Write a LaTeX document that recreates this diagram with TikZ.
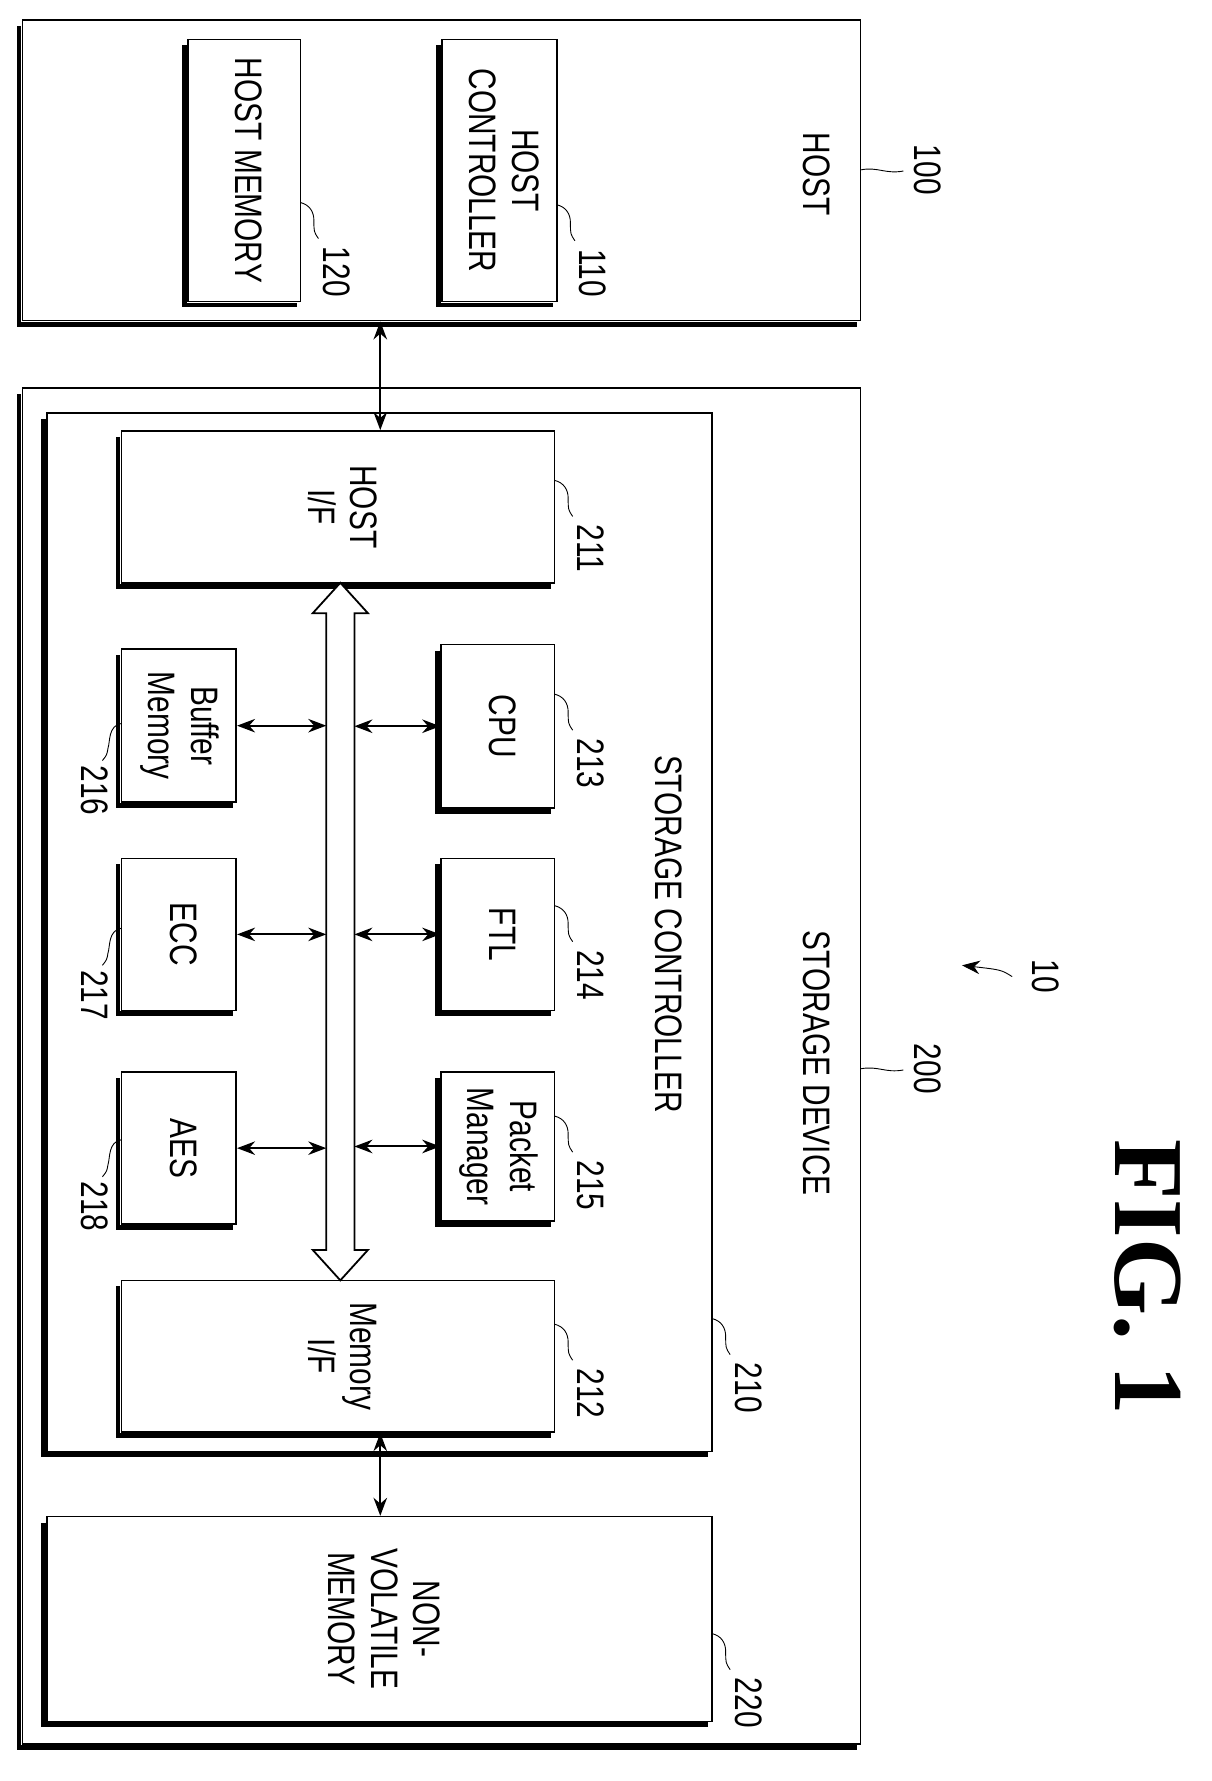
\documentclass[tikz,border=0pt]{standalone}
\usepackage{fontspec}
\setmainfont{Liberation Sans}
\newfontfamily\figfont{Liberation Serif}
\usetikzlibrary{arrows.meta}
\newcommand\nr[1]{\scalebox{0.78}[1]{\begin{tabular}{@{}c@{}}#1\end{tabular}}}
\newcommand\bx[6]{%
  \node[box,minimum width={(#4-#2)*0.5pt},minimum height={(#5-#3)*0.5pt}] (#1) at ({(#2+#4)/2},{(#3+#5)/2}) {};
  \draw[shadowline] ([xshift=-1.2pt,yshift=-3pt]#1.north west) -- ([xshift=-1.2pt,yshift=-1.2pt]#1.south west) -- ([xshift=-2pt,yshift=-1.2pt]#1.south east);
  \node[txt] (#1t) at (#1.center) {\nr{#6}};}
\newcommand\lead[3]{% name, start x, start y
  \draw[thin] (#2,#3) .. controls ({#2+8},{#3+2}) and ({#2+12},{#3+8}) .. ({#2+12},{#3+16}) .. controls ({#2+12},{#3+26}) .. ({#2+16},{#3+32});
  \node[txt,anchor=west] (#1) at ({#2+28},{#3+37}) {\nr{#1}};}
\newcommand\hlead[3]{%
  \draw[thin] (#2,#3) .. controls ({#2+15},{#3-3}) and ({#2+22},{#3+4}) .. ({#2+38},{#3+1});
  \node[txt] (#1) at ({#2+55},{#3}) {\nr{#1}};}
\begin{document}
\begin{tikzpicture}[x=0.5pt,y=-0.5pt,
  box/.style={draw,line width=0.7pt,inner sep=0pt,fill=white},
  shadowline/.style={line width=2.2pt},
  txt/.style={rotate=-90,font=\fontsize{17}{19}\selectfont,inner sep=1pt},
  arr/.style={{Stealth[length=8pt,width=6pt]}-{Stealth[length=8pt,width=6pt]},line width=0.9pt}]
\useasboundingbox (0,0) rectangle (1077,1583);
% host
\bx{host}{20}{18}{765}{285}{}
\node[txt] (hostt2) at (722,155) {\nr{HOST}};
\bx{hmem}{167}{35}{267}{268}{HOST MEMORY}
\bx{hctl}{393}{35}{495}{268}{HOST\\CONTROLLER}
% storage device
\bx{sd}{20}{345}{765}{1550}{}
\node[txt] (sdt2) at (722,945) {\nr{STORAGE DEVICE}};
\bx{sc}{42}{367}{633}{1290}{}
\node[txt] (sct2) at (590,830) {\nr{STORAGE CONTROLLER}};
\bx{hif}{108}{383}{493}{518}{HOST\\I/F}
\bx{mif}{108}{1138}{493}{1273}{Memory\\I/F}
\bx{cpu}{392}{573}{493}{718}{CPU}
\bx{ftl}{392}{763}{493}{898}{FTL}
\bx{pm}{392}{953}{493}{1085}{Packet\\Manager}
\bx{buf}{108}{577}{210}{713}{Buffer\\Memory}
\bx{ecc}{108}{763}{210}{898}{ECC}
\bx{aes}{108}{953}{210}{1088}{AES}
\bx{nvm}{42}{1348}{633}{1530}{NON-\\VOLATILE\\MEMORY}
% bus
\draw[line width=0.8pt,fill=white] (302.5,518) -- (327,545) -- (315,545) -- (315,1111) -- (327,1111) -- (302.5,1138)
  -- (278,1111) -- (290,1111) -- (290,545) -- (278,545) -- cycle;
\coordinate (busR) at (315,0);
\coordinate (busL) at (290,0);
\coordinate (hc) at (338,0);
\foreach \n in {cpu,ftl,pm} \draw[arr] (\n.west) -- (\n.west -| busR);
\foreach \n in {buf,ecc,aes} \draw[arr] (\n.east) -- (\n.east -| busL);
\draw[arr] (hc |- host.south) -- (hc |- hif.north);
\draw[arr] (hc |- mif.south) -- (hc |- nvm.north);
% labels
\hlead{100}{765}{151}
\hlead{200}{765}{950}
\lead{110}{495}{182}
\lead{120}{267}{180}
\lead{210}{633}{1172}
\lead{211}{493}{427}
\lead{212}{493}{1177}
\lead{213}{493}{617}
\lead{214}{493}{805}
\lead{215}{493}{992}
\lead{220}{633}{1452}
\draw[thin] (108,643) .. controls (96,645) and (98,659) .. (96,665) .. controls (95,671) .. (91,676);
\node[txt,anchor=west] (216) at (80,678) {\nr{216}};
\draw[thin] (108,825) .. controls (96,827) and (98,841) .. (96,847) .. controls (95,853) .. (91,858);
\node[txt,anchor=west] (217) at (80,860) {\nr{217}};
\draw[thin] (108,1013) .. controls (96,1015) and (98,1029) .. (96,1035) .. controls (95,1041) .. (91,1046);
\node[txt,anchor=west] (218) at (80,1048) {\nr{218}};
\node[txt] (ten) at (925,868) {\nr{10}};
\coordinate (tenp) at (855,858);
\draw[-{Stealth[length=8pt,width=6pt]},thin] (ten.south) ++(-4,0) .. controls (890,862) .. (tenp);
\node[rotate=-90,font=\figfont\bfseries\fontsize{44}{46}\selectfont] (fig) at (1020,1135) {FIG. 1};
\end{tikzpicture}
\end{document}
